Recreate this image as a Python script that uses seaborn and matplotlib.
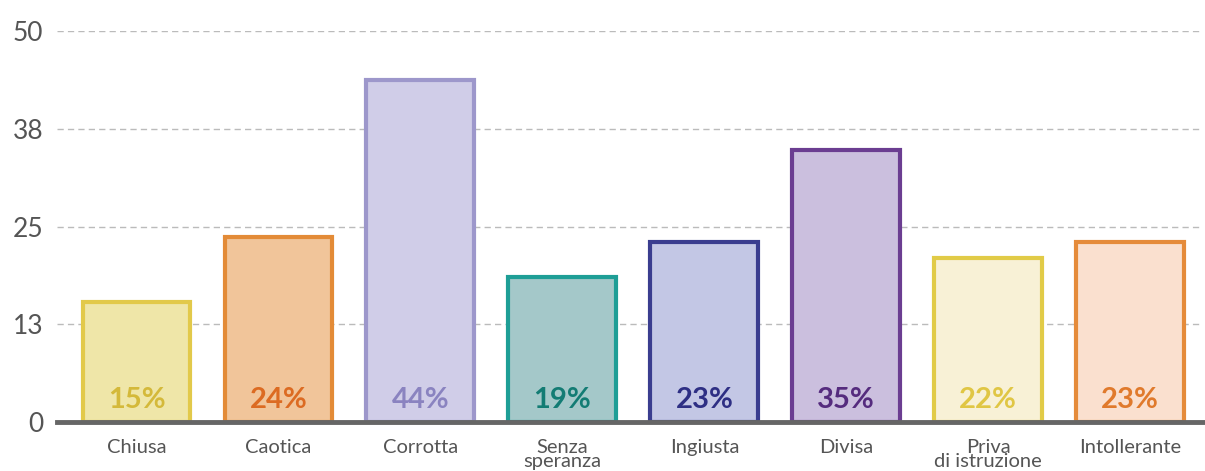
import pandas as pd
import seaborn as sns
import matplotlib.pyplot as plt

# dati
categorie = ["Chiusa", "Caotica", "Corrotta", "Senza\nsperanza", "Ingiusta",
             "Divisa", "Priva\ndi istruzione", "Intollerante"]
valori = [15.4, 23.6, 43.7, 18.6, 23.0, 34.8, 21.0, 23.0]
etichette = ["15%", "24%", "44%", "19%", "23%", "35%", "22%", "23%"]
y_ticks = [0, 12.5, 25, 37.5, 50]
y_tick_labels = ["0", "13", "25", "38", "50"]

colori_riempimento = ["#EFE6A8", "#F1C59A", "#D0CDE8", "#A4C8C9",
                      "#C3C7E5", "#CBBFDE", "#F8F1D6", "#FAE0CF"]
colori_bordo = ["#E2C94A", "#E38B37", "#9D97CB", "#1E9E96",
                "#3A3D8F", "#6B3D91", "#E1CB47", "#E58B3A"]
colori_testo = ["#D4B93A", "#DC6B22", "#8A83C0", "#137C74",
                "#2E2F84", "#552B7E", "#E0C644", "#E07A2C"]

sns.set_style("white")
plt.rcParams["font.family"] = ["Lato", "DejaVu Sans"]

df = pd.DataFrame({"categoria": categorie, "valore": valori})

fig = plt.figure(figsize=(12.05, 4.71), dpi=100)
ax = fig.add_axes([0.0473, 0.104, 0.9507, 0.83])

sns.barplot(x="categoria", y="valore", data=df, hue="categoria",
            palette=colori_riempimento, legend=False, width=0.76,
            saturation=1, ax=ax, zorder=2)

for patch, bordo in zip(ax.patches, colori_bordo):
    patch.set_edgecolor(bordo)
    patch.set_linewidth(3)

for i, (testo, colore) in enumerate(zip(etichette, colori_testo)):
    ax.text(i, 2.8, testo, ha="center", va="center", fontsize=21,
            fontweight="bold", color=colore, zorder=3)

ax.set_ylim(0, 50)
ax.set_xlim(-0.56, 7.51)
ax.set_yticks(y_ticks)
ax.set_yticklabels(y_tick_labels)
ax.yaxis.grid(True, color="#BBBBBB", linestyle=(0, (4.5, 3)), linewidth=1, zorder=0)
ax.set_axisbelow(True)

for lato in ["top", "right", "left"]:
    ax.spines[lato].set_visible(False)
ax.spines["bottom"].set_color("#666666")
ax.spines["bottom"].set_linewidth(3.5)
ax.spines["bottom"].set_zorder(4)

ax.tick_params(axis="y", length=0, pad=10, labelsize=19, labelcolor="#555555")
ax.tick_params(axis="x", length=0, pad=12, labelsize=14.5, labelcolor="#555555")
for lab in ax.get_xticklabels():
    lab.set_linespacing(0.8)
    lab.set_verticalalignment("top")

ax.set_xlabel("")
ax.set_ylabel("")

fig.savefig("out.png", dpi=100)
